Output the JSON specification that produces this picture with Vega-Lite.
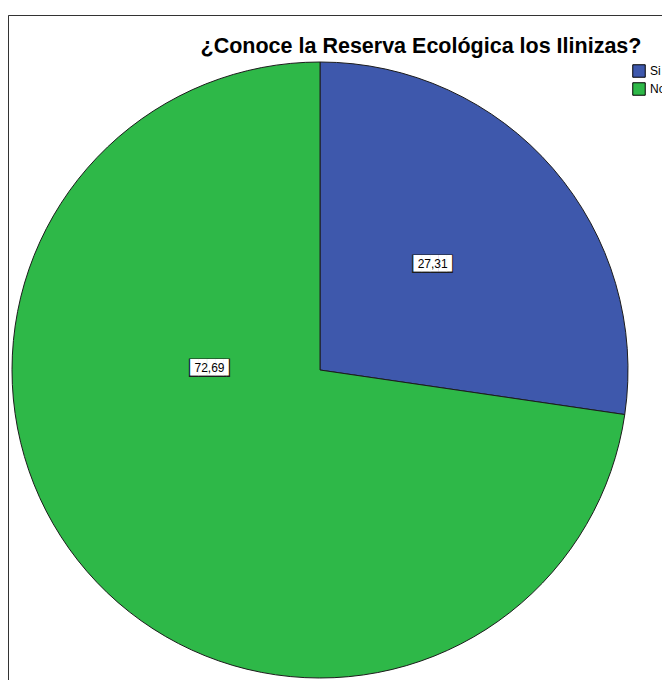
{
  "$schema": "https://vega.github.io/schema/vega-lite/v6.json",
  "width": 654,
  "height": 665,
  "autosize": {"type": "none"},
  "padding": {"left": 8, "top": 15, "right": 0, "bottom": 0},
  "background": "white",
  "view": {"stroke": "#333333", "strokeWidth": 1, "fill": "white", "strokeDash": [654, 1319, 665]},
  "title": {
    "text": "¿Conoce la Reserva Ecológica los Ilinizas?",
    "font": "Liberation Sans",
    "fontSize": 21.5,
    "fontWeight": "bold",
    "color": "#000000",
    "anchor": "middle",
    "frame": "group",
    "orient": "top",
    "baseline": "alphabetic",
    "offset": 0,
    "dx": 86,
    "dy": 59
  },
  "data": {
    "values": [
      {"respuesta": "Si", "porcentaje": 27.31, "etiqueta": "27,31"},
      {"respuesta": "No", "porcentaje": 72.69, "etiqueta": "72,69"}
    ]
  },
  "encoding": {
    "theta": {"field": "porcentaje", "type": "quantitative", "stack": true},
    "order": {"field": "porcentaje", "sort": "ascending"}
  },
  "layer": [
    {
      "mark": {"type": "arc", "outerRadius": 308, "x": 312, "y": 355, "stroke": "#1c1c1c", "strokeWidth": 1},
      "encoding": {
        "color": {
          "field": "respuesta",
          "type": "nominal",
          "scale": {"domain": ["Si", "No"], "range": ["#3E58AC", "#2EB848"]},
          "legend": {
            "title": null,
            "orient": "none",
            "legendX": 624,
            "legendY": 49,
            "symbolType": "square",
            "symbolSize": 156,
            "symbolStrokeColor": "#000000",
            "symbolStrokeWidth": 1,
            "symbolOpacity": 1,
            "labelFont": "Liberation Sans",
            "labelFontSize": 12,
            "labelColor": "#000000",
            "labelOffset": 4,
            "rowPadding": 0,
            "padding": 0
          }
        }
      }
    },
    {
      "mark": {"type": "text", "radius": 155, "thetaOffset": -0.044, "x": 312, "y": 355, "font": "DejaVu Sans Mono", "fontSize": 15.5, "baseline": "alphabetic", "dy": 5.4, "dx": 2.9, "color": "#1c1c1c"},
      "encoding": {
        "text": {"value": "████▍"},
        "opacity": {"condition": {"test": "datum.respuesta === 'Si'", "value": 1}, "value": 0}
      }
    },
    {
      "mark": {"type": "text", "radius": 155, "thetaOffset": -0.044, "x": 312, "y": 355, "font": "DejaVu Sans Mono", "fontSize": 13.8, "baseline": "alphabetic", "dy": 4.8, "dx": 1.55, "color": "#ffffff"},
      "encoding": {
        "text": {"value": "████▋"},
        "opacity": {"condition": {"test": "datum.respuesta === 'Si'", "value": 1}, "value": 0}
      }
    },
    {
      "mark": {"type": "text", "radius": 155, "thetaOffset": -0.044, "x": 312, "y": 355, "font": "Liberation Sans", "fontSize": 12, "baseline": "middle", "color": "#000000"},
      "encoding": {
        "text": {"field": "etiqueta"},
        "opacity": {"condition": {"test": "datum.respuesta === 'Si'", "value": 1}, "value": 0}
      }
    },
    {
      "mark": {"type": "text", "radius": 110.5, "thetaOffset": 0.735, "x": 312, "y": 355, "font": "DejaVu Sans Mono", "fontSize": 15.5, "baseline": "alphabetic", "dy": 5.4, "dx": 2.9, "color": "#1c1c1c"},
      "encoding": {
        "text": {"value": "████▍"},
        "opacity": {"condition": {"test": "datum.respuesta === 'No'", "value": 1}, "value": 0}
      }
    },
    {
      "mark": {"type": "text", "radius": 110.5, "thetaOffset": 0.735, "x": 312, "y": 355, "font": "DejaVu Sans Mono", "fontSize": 13.8, "baseline": "alphabetic", "dy": 4.8, "dx": 1.55, "color": "#ffffff"},
      "encoding": {
        "text": {"value": "████▋"},
        "opacity": {"condition": {"test": "datum.respuesta === 'No'", "value": 1}, "value": 0}
      }
    },
    {
      "mark": {"type": "text", "radius": 110.5, "thetaOffset": 0.735, "x": 312, "y": 355, "font": "Liberation Sans", "fontSize": 12, "baseline": "middle", "color": "#000000"},
      "encoding": {
        "text": {"field": "etiqueta"},
        "opacity": {"condition": {"test": "datum.respuesta === 'No'", "value": 1}, "value": 0}
      }
    }
  ],
  "config": {
    "view": {"stroke": null}
  }
}
